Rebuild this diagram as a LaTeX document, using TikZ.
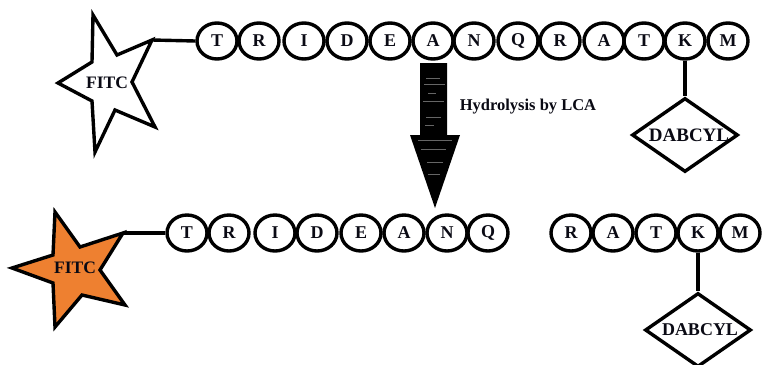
\documentclass[tikz,border=0pt]{standalone}
\usepackage{fontspec}
\setmainfont{Liberation Serif}
\usetikzlibrary{shapes.geometric}
\definecolor{fitcorange}{RGB}{238,128,48}
\definecolor{ink}{RGB}{10,10,20}
\tikzset{
  res/.style={ellipse, draw=black, line width=3.4pt, minimum width=40pt, minimum height=36pt, inner sep=0pt,
    font=\fontsize{18}{18}\selectfont\bfseries, text=ink},
  starline/.style={draw=black, line width=3.4pt, line join=miter},
  link/.style={draw=black, line width=3.4pt},
  dbox/.style={diamond, draw=black, line width=3.4pt, minimum width=106pt, minimum height=74pt, inner sep=0pt},
  flbl/.style={font=\fontsize{17.5}{17.5}\selectfont\bfseries, text=ink, inner sep=0pt},
}
\begin{document}
\begin{tikzpicture}[x=1pt,y=-1pt]
\useasboundingbox (0,0) rectangle (762,364);
% ---------- top peptide ----------
\foreach \n/\x/\l in {1/217/T,2/259/R,3/304/I,4/347/D,5/390/E,6/433/A,7/474/N,8/518/Q,9/560/R,10/604/A,11/644/T,12/685/K,13/728/M}
  \node[res] (t\n) at (\x,41) {\l};
% top star (white)
\path[starline, fill=white] (93,15) -- (117,55) -- (152,40) -- (132,82) -- (155,127) -- (115,110)
  -- (95,152) -- (92,101) -- (58,83) -- (92,62) -- cycle;
\coordinate (sa) at (152,40);
\node[flbl] (fa) at (107,83) {FITC};
\draw[link] (sa) -- (t1.west);
% top diamond
\node[dbox] (da) at (685,135) {};
\node[font=\fontsize{19}{19}\selectfont\bfseries, text=ink, inner sep=0pt] (dla) at (689,135) {DABCYL};
\draw[link] (t12.south) -- (da.north);
% ---------- arrow ----------
\fill[black] (420,63) -- (447,63) -- (447,135) -- (460,135) -- (435,208) -- (410,135) -- (420,135) -- cycle;
\foreach \yy/\xa/\xb in {78/426/440, 84/424/445, 93/428/436, 101/423/444, 117/426/441, 125/425/434, 140/418/452, 149/421/446, 162/427/443, 174/428/440}
  \draw[black!60, line width=0.8pt] (\xa,\yy) -- (\xb,\yy);
\node[font=\fontsize{16.5}{16.5}\selectfont\bfseries, text=ink, inner sep=0pt] (hyd) at (528,107) {Hydrolysis by LCA};
% ---------- bottom fragments ----------
\foreach \n/\x/\l in {1/187/T,2/229/R,3/275/I,4/317/D,5/361/E,6/404/A,7/447/N,8/488/Q,9/571/R,10/613/A,11/656/T,12/698/K,13/740/M}
  \node[res] (b\n) at (\x,233) {\l};
% bottom star (orange)
\path[starline, fill=fitcorange] (55,212) -- (80,247) -- (123,233) -- (100,270) -- (125,305) -- (82,295)
  -- (55,327) -- (53,283) -- (12,268) -- (53,255) -- cycle;
\coordinate (sb) at (123,233);
\node[flbl] (fb) at (75,268) {FITC};
\draw[link] (sb) -- (b1.west);
% bottom diamond
\node[dbox] (db) at (698,330) {};
\node[font=\fontsize{18}{18}\selectfont\bfseries, text=ink, inner sep=0pt] (dlb) at (700,330) {DABCYL};
\draw[link] (b12.south) -- (db.north);
\end{tikzpicture}
\end{document}
